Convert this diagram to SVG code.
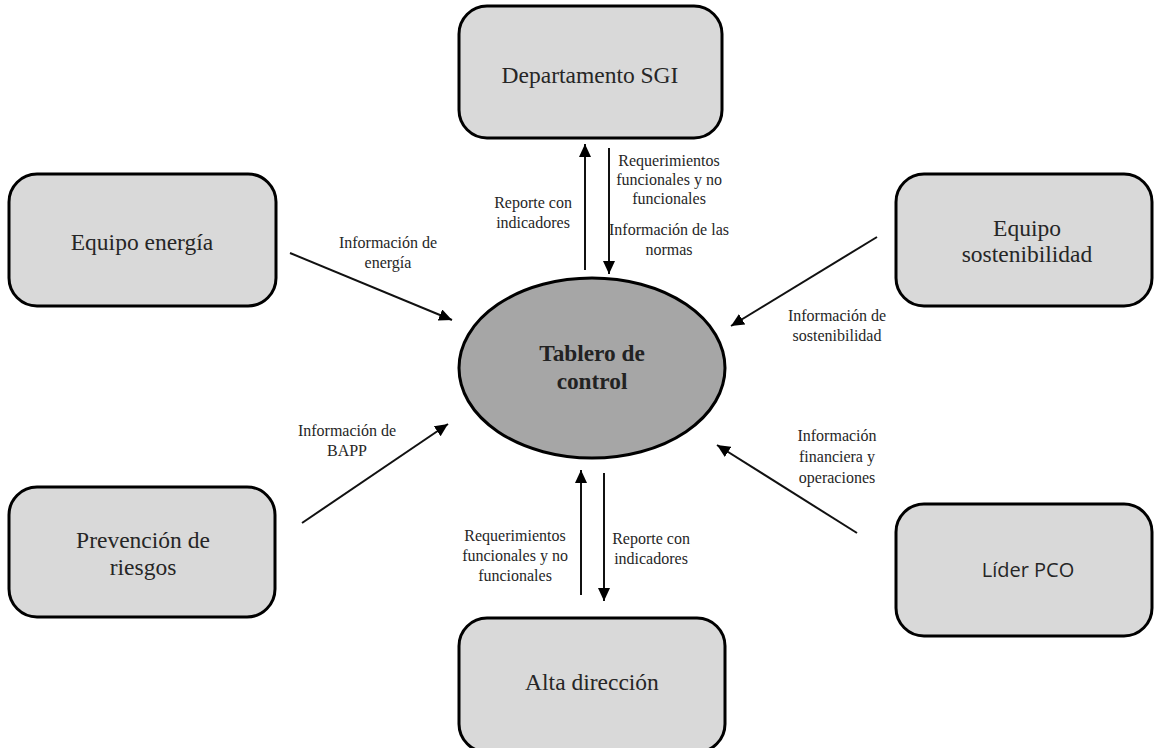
<svg xmlns="http://www.w3.org/2000/svg" width="1154" height="748" viewBox="0 0 1154 748">
  <defs>
    <marker id="arrow" viewBox="0 0 13 12" refX="13" refY="6" markerWidth="13" markerHeight="12" markerUnits="userSpaceOnUse" orient="auto">
      <path d="M0,0 L13,6 L0,12 z" fill="#000"/>
    </marker>
    <style>
      .box { fill: #d9d9d9; stroke: #000; stroke-width: 3; }
      .hub { fill: #a6a6a6; stroke: #000; stroke-width: 3; }
      .node-text { font-family: "Times New Roman", "Liberation Serif", serif; font-size: 23.5px; fill: #262626; text-anchor: middle; }
      .node-sans { font-family: "Open Sans", "Liberation Sans", sans-serif; font-size: 20px; fill: #262626; text-anchor: middle; }
      .hub-text { font-family: "Times New Roman", "Liberation Serif", serif; font-size: 23.3px; font-weight: bold; fill: #222; text-anchor: middle; }
      .label { font-family: "Times New Roman", "Liberation Serif", serif; font-size: 16px; fill: #262626; text-anchor: middle; }
      .flow { stroke: #111; stroke-width: 2; fill: none; marker-end: url(#arrow); }
    </style>
  </defs>
  <rect width="1154" height="748" fill="#fff"/>

  <!-- arrows between the dashboard and its stakeholders -->
  <g id="connectors">
    <line class="flow" x1="585" y1="270" x2="585" y2="144"/>
    <line class="flow" x1="609" y1="148" x2="609" y2="274"/>
    <line class="flow" x1="290" y1="253" x2="452" y2="320"/>
    <line class="flow" x1="877" y1="237" x2="731" y2="326"/>
    <line class="flow" x1="302" y1="523" x2="448" y2="424"/>
    <line class="flow" x1="857" y1="533" x2="717" y2="445"/>
    <line class="flow" x1="581" y1="595" x2="581" y2="470"/>
    <line class="flow" x1="604" y1="473" x2="604" y2="601"/>

    <text class="label" x="533" y="208">Reporte con</text>
    <text class="label" x="533" y="228">indicadores</text>
    <text class="label" x="669" y="166">Requerimientos</text>
    <text class="label" x="669" y="185">funcionales y no</text>
    <text class="label" x="669" y="204">funcionales</text>
    <text class="label" x="669" y="235">Información de las</text>
    <text class="label" x="669" y="255">normas</text>

    <text class="label" x="388" y="248">Información de</text>
    <text class="label" x="388" y="268">energía</text>

    <text class="label" x="837" y="321">Información de</text>
    <text class="label" x="837" y="341">sostenibilidad</text>

    <text class="label" x="347" y="436">Información de</text>
    <text class="label" x="347" y="456">BAPP</text>

    <text class="label" x="837" y="441">Información</text>
    <text class="label" x="837" y="462">financiera y</text>
    <text class="label" x="837" y="483">operaciones</text>

    <text class="label" x="515" y="541">Requerimientos</text>
    <text class="label" x="515" y="561">funcionales y no</text>
    <text class="label" x="515" y="581">funcionales</text>
    <text class="label" x="651" y="544">Reporte con</text>
    <text class="label" x="651" y="564">indicadores</text>
  </g>

  <g id="hub">
    <ellipse class="hub" cx="592" cy="368" rx="133" ry="90"/>
    <text class="hub-text" x="592" y="361">Tablero de</text>
    <text class="hub-text" x="592" y="389">control</text>
  </g>

  <g id="departamento-sgi">
    <rect class="box" x="459" y="6" width="263" height="132" rx="28"/>
    <text class="node-text" x="590" y="83">Departamento SGI</text>
  </g>

  <g id="equipo-energia">
    <rect class="box" x="9" y="174" width="267" height="132" rx="28"/>
    <text class="node-text" x="142" y="250">Equipo energía</text>
  </g>

  <g id="equipo-sostenibilidad">
    <rect class="box" x="896" y="174" width="256" height="132" rx="28"/>
    <text class="node-text" x="1027" y="236">Equipo</text>
    <text class="node-text" x="1027" y="262">sostenibilidad</text>
  </g>

  <g id="prevencion-riesgos">
    <rect class="box" x="9" y="487" width="266" height="130" rx="28"/>
    <text class="node-text" x="143" y="548">Prevención de</text>
    <text class="node-text" x="143" y="575">riesgos</text>
  </g>

  <g id="lider-pco">
    <rect class="box" x="896" y="504" width="256" height="132" rx="28"/>
    <text class="node-sans" x="1028" y="577">Líder PCO</text>
  </g>

  <g id="alta-direccion">
    <rect class="box" x="459" y="618" width="266" height="134" rx="28"/>
    <text class="node-text" x="592" y="690">Alta dirección</text>
  </g>
</svg>
